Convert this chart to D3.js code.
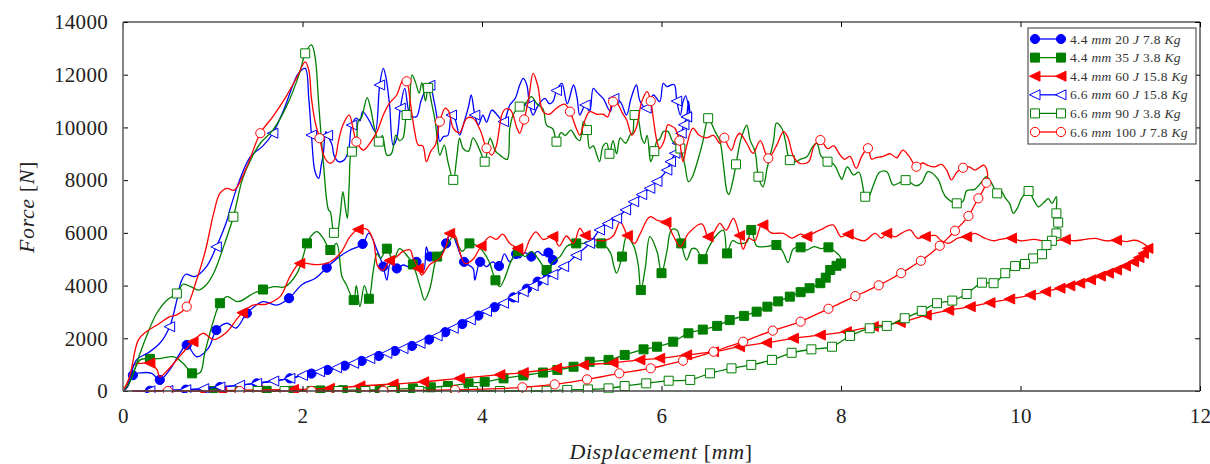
<!DOCTYPE html>
<html>
<head>
<meta charset="utf-8">
<script src="https://cdn.jsdelivr.net/npm/d3@7"></script>
<style>
body { margin: 0; background: #fff; }
text { font-family: "Liberation Serif", "Times New Roman", serif; }
</style>
</head>
<body>
<script>
// ---- data (displacement mm, force N) ----
var xTicks = [0, 2, 4, 6, 8, 10, 12];
var yTicks = [0, 2000, 4000, 6000, 8000, 10000, 12000, 14000];
var legendLabels = ["4.4 mm 20 J 7.8 Kg", "4.4 mm 35 J 3.8 Kg", "4.4 mm 60 J 15.8 Kg",
                    "6.6 mm 60 J 15.8 Kg", "6.6 mm 90 J 3.8 Kg", "6.6 mm 100 J 7.8 Kg"];

// 4.4 mm 20 J
var loadA = [[0,0],[0.05,150],[0.11,600],[0.2,690],[0.32,670],[0.41,420],[0.52,800],[0.62,1350],[0.71,1745],[0.82,1300],[0.95,1620],[1.04,2310],[1.16,2570],[1.26,2390],[1.38,2950],[1.56,3390],[1.71,3260],[1.85,3520],[2.0,4050],[2.14,4270],[2.27,4680],[2.40,5070],[2.52,5330],[2.67,5580],[2.74,5990],[2.83,5350],[2.90,4720],[2.94,4210],[2.98,4840],[3.05,4650],[3.12,4780],[3.2,4700],[3.27,4900],[3.35,4590],[3.38,5470],[3.42,5100],[3.5,5200],[3.53,5100],[3.6,5600],[3.66,6040],[3.72,5540],[3.8,4900],[3.90,4650],[3.92,4210],[3.98,4900],[4.05,4720],[4.12,4900],[4.19,4740],[4.25,5200],[4.31,4900],[4.38,5200],[4.42,5050],[4.48,5250],[4.55,5100],[4.62,5300],[4.68,5150],[4.74,5250],[4.79,4970]];
var unloadA = [[4.79,4970],[4.76,4700],[4.72,4500],[4.68,4300],[4.62,4150],[4.57,4000],[4.5,3880],[4.42,3720],[4.35,3550],[4.24,3330],[4.14,3180],[4.05,3020],[3.96,2860],[3.87,2700],[3.78,2540],[3.68,2380],[3.59,2230],[3.5,2090],[3.41,1950],[3.31,1810],[3.22,1710],[3.12,1610],[3.03,1520],[2.94,1430],[2.85,1330],[2.75,1230],[2.66,1140],[2.57,1050],[2.47,960],[2.38,880],[2.28,800],[2.19,730],[2.1,660],[2.0,590],[1.86,480],[1.68,380],[1.49,290],[1.3,220],[1.08,150],[0.9,90],[0.7,50],[0.5,20],[0.3,10],[0.12,0]];

// 4.4 mm 35 J
var loadB = [[0,0],[0.08,400],[0.19,1180],[0.3,1220],[0.43,1240],[0.56,1300],[0.67,1050],[0.77,670],[0.86,700],[0.91,1430],[1.01,2690],[1.08,3330],[1.16,3580],[1.28,3390],[1.45,3700],[1.56,3850],[1.69,3960],[1.8,3950],[1.94,4470],[2.05,5600],[2.09,5860],[2.16,6050],[2.23,5800],[2.31,5350],[2.38,5600],[2.44,4340],[2.49,4020],[2.57,3450],[2.60,4000],[2.64,3200],[2.69,4000],[2.74,3500],[2.79,4600],[2.83,5220],[2.87,5030],[2.94,5400],[3.01,4950],[3.08,5400],[3.15,5200],[3.23,4800],[3.31,3960],[3.36,3450],[3.42,3900],[3.5,5100],[3.59,5410],[3.68,5860],[3.78,5300],[3.86,5600],[3.93,5540],[4.01,5300],[4.08,4900],[4.15,4200],[4.2,3960],[4.26,4340],[4.32,4900],[4.40,5300],[4.48,5100],[4.55,5300],[4.63,5000],[4.72,4590],[4.79,4900],[4.87,5100],[4.95,5500],[5.05,5600],[5.13,5600],[5.17,5670],[5.25,5500],[5.33,5600],[5.43,5250],[5.47,4720],[5.50,4470],[5.56,5100],[5.61,5860],[5.69,5500],[5.74,4800],[5.77,3830],[5.82,4700],[5.87,5860],[5.95,5290],[6.0,4470],[6.06,5300],[6.11,6110],[6.17,6110],[6.22,5600],[6.28,4970],[6.34,5400],[6.39,5380],[6.46,5000],[6.52,5400],[6.6,5860],[6.69,6100],[6.73,5220],[6.79,5700],[6.86,5600],[6.95,5650],[7.0,6110],[7.06,5500],[7.13,5470],[7.2,5500],[7.28,5540],[7.35,5300],[7.41,4870],[7.47,5400],[7.55,5450],[7.62,5350],[7.7,5480],[7.78,5400],[7.86,5450],[7.93,5300],[7.99,5100],[8.0,4840]];
var unloadB = [[8.0,4840],[7.95,4750],[7.88,4590],[7.83,4300],[7.77,4090],[7.65,3900],[7.55,3750],[7.43,3580],[7.3,3400],[7.18,3200],[7.06,3010],[6.92,2850],[6.76,2690],[6.62,2470],[6.46,2330],[6.30,2190],[6.13,1870],[5.95,1680],[5.80,1580],[5.59,1370],[5.41,1180],[5.20,1110],[5.02,920],[4.84,800],[4.68,700],[4.46,590],[4.24,480],[4.03,350],[3.85,290],[3.62,190],[3.43,140],[3.23,100],[3.03,70],[2.86,40],[2.65,40],[2.45,30],[2.2,20],[1.9,10],[1.6,5],[1.3,0],[1.0,0]];

// 4.4 mm 60 J
var loadC = [[0,0],[0.06,300],[0.12,1000],[0.2,1050],[0.3,1060],[0.38,800],[0.41,540],[0.5,800],[0.65,1390],[0.78,1870],[0.89,2190],[1.01,1950],[1.16,2250],[1.26,2690],[1.33,2970],[1.45,3260],[1.6,3300],[1.75,3580],[1.86,4340],[1.97,4840],[2.12,4800],[2.27,4840],[2.42,5220],[2.53,5860],[2.62,6130],[2.72,6130],[2.79,5700],[2.84,4720],[2.90,4590],[2.97,4950],[3.05,5100],[3.12,5300],[3.2,5350],[3.23,5070],[3.29,4650],[3.33,4400],[3.42,4800],[3.53,5030],[3.6,5500],[3.64,5980],[3.7,5900],[3.75,5300],[3.81,4840],[3.9,5000],[3.99,5500],[4.09,5860],[4.16,5750],[4.23,5950],[4.31,5600],[4.40,5410],[4.46,5200],[4.53,5730],[4.6,6040],[4.68,5750],[4.79,5860],[4.86,5500],[4.94,5880],[5.02,5600],[5.09,6170],[5.15,5900],[5.25,5750],[5.35,5700],[5.46,5880],[5.54,6420],[5.62,5900],[5.7,5600],[5.76,5950],[5.87,6610],[5.96,6460],[6.05,6400],[6.13,5900],[6.21,5470],[6.3,5980],[6.45,6340],[6.52,5850],[6.58,6000],[6.65,6360],[6.72,6100],[6.80,6550],[6.87,5900],[6.91,5380],[6.97,5800],[7.04,5700],[7.1,6230],[7.13,6300],[7.22,6000],[7.36,5980],[7.45,5800],[7.55,5950],[7.62,5860],[7.70,6000],[7.77,6110],[7.91,6300],[8.0,5850],[8.08,5950],[8.16,5790],[8.26,5700],[8.38,5980],[8.45,5800],[8.51,5980],[8.6,5850],[8.68,6000],[8.77,6110],[8.85,5800],[8.94,5860],[9.05,5900],[9.12,5700],[9.20,5600],[9.3,5800],[9.4,5850],[9.49,5980],[9.6,5800],[9.7,5700],[9.77,5750],[9.9,5800],[10.0,5700],[10.15,5750],[10.25,5700],[10.38,5690],[10.5,5750],[10.6,5700],[10.72,5750],[10.83,5790],[10.95,5700],[11.07,5720],[11.18,5670],[11.26,5720],[11.33,5670],[11.42,5410]];
var unloadC = [[11.42,5410],[11.37,5220],[11.32,5060],[11.26,4900],[11.17,4740],[11.07,4590],[10.98,4470],[10.89,4360],[10.78,4220],[10.66,4090],[10.55,3990],[10.44,3900],[10.28,3770],[10.11,3640],[9.88,3490],[9.66,3350],[9.44,3200],[9.2,3060],[8.95,2880],[8.66,2600],[8.36,2450],[8.06,2250],[7.77,2120],[7.47,2000],[7.17,1830],[6.87,1680],[6.58,1490],[6.28,1370],[5.98,1240],[5.76,1180],[5.46,1070],[5.13,990],[4.83,860],[4.46,700],[4.2,620],[3.75,480],[3.35,350],[3.01,265],[2.64,190],[2.3,100],[1.9,60],[1.5,40],[1.1,10],[0.9,0]];

// 6.6 mm 60 J
var loadD = [[0,0],[0.05,200],[0.15,1180],[0.28,1450],[0.41,1810],[0.52,2440],[0.6,3450],[0.65,4170],[0.7,4430],[0.8,4340],[0.93,4720],[1.04,5470],[1.16,6490],[1.19,6870],[1.30,8010],[1.42,8890],[1.56,9300],[1.67,9780],[1.79,10660],[1.9,11670],[1.95,12030],[2.03,12240],[2.07,11100],[2.10,9710],[2.14,8320],[2.18,8070],[2.21,8600],[2.23,8950],[2.26,9840],[2.28,9700],[2.33,9330],[2.35,8950],[2.40,8700],[2.46,8750],[2.51,9080],[2.55,10090],[2.60,10350],[2.64,10250],[2.67,10600],[2.75,10220],[2.81,9840],[2.86,11610],[2.90,12240],[2.93,11900],[2.97,10850],[3.01,9330],[3.05,9580],[3.09,10730],[3.14,11480],[3.20,10470],[3.27,10410],[3.32,11000],[3.38,11480],[3.42,11600],[3.46,11100],[3.50,10350],[3.53,9460],[3.57,9650],[3.62,9700],[3.66,10470],[3.70,10300],[3.75,9710],[3.80,10200],[3.85,10790],[3.88,11230],[3.92,10470],[3.96,10100],[4.01,10470],[4.05,10200],[4.11,10660],[4.17,10470],[4.24,10220],[4.31,10850],[4.37,11100],[4.42,11610],[4.46,11860],[4.50,11600],[4.53,10850],[4.57,10470],[4.62,10800],[4.7,11100],[4.75,10900],[4.79,10980],[4.83,11400],[4.89,11670],[4.95,10900],[5.02,11610],[5.06,11100],[5.09,10470],[5.15,10850],[5.2,10600],[5.24,11480],[5.29,11300],[5.35,11100],[5.43,10600],[5.47,11100],[5.54,10980],[5.61,10470],[5.66,11100],[5.72,11610],[5.76,11000],[5.83,10730],[5.91,11230],[5.98,10980],[6.02,11670],[6.06,11550],[6.14,11630],[6.17,11000],[6.21,10470],[6.24,10980],[6.27,11200],[6.32,10350],[6.3,11000],[6.28,10400]];
var unloadD = [[6.28,10400],[6.25,10100],[6.22,9780],[6.18,9400],[6.15,9020],[6.1,8700],[6.06,8380],[5.95,7950],[5.87,7690],[5.78,7450],[5.69,7180],[5.6,6870],[5.5,6550],[5.4,6350],[5.31,6110],[5.2,5600],[5.05,5150],[4.91,4720],[4.79,4420],[4.68,4210],[4.57,3990],[4.46,3770],[4.35,3550],[4.24,3330],[4.05,3020],[3.87,2700],[3.68,2380],[3.5,2090],[3.31,1810],[3.12,1610],[2.94,1430],[2.75,1230],[2.57,1050],[2.38,880],[2.19,730],[2.0,590],[1.86,480],[1.68,380],[1.49,290],[1.3,220],[1.08,150],[0.9,90],[0.7,50],[0.5,20],[0.3,5]];

// 6.6 mm 90 J
var loadE = [[0,0],[0.07,300],[0.19,1430],[0.26,2060],[0.375,2950],[0.49,3450],[0.60,3700],[0.67,4050],[0.76,3950],[0.84,3830],[0.92,4000],[1.01,4470],[1.12,5470],[1.23,6610],[1.33,8030],[1.42,8760],[1.53,9400],[1.67,9900],[1.82,10790],[1.97,12090],[2.03,12810],[2.10,13130],[2.14,12680],[2.18,10920],[2.23,8760],[2.29,6870],[2.31,6800],[2.35,6000],[2.38,5920],[2.42,6700],[2.45,7560],[2.48,6900],[2.50,6550],[2.52,7820],[2.55,9080],[2.59,9020],[2.62,10220],[2.66,10400],[2.72,11130],[2.76,10700],[2.80,10000],[2.85,9460],[2.89,9700],[2.94,8950],[2.99,9000],[3.04,9710],[3.08,9500],[3.12,9600],[3.16,10470],[3.18,10370],[3.22,11990],[3.26,11700],[3.3,11300],[3.33,11700],[3.37,11000],[3.4,11500],[3.44,10900],[3.48,10200],[3.50,9590],[3.53,8950],[3.58,9330],[3.62,8700],[3.68,8010],[3.72,8900],[3.75,9590],[3.79,9200],[3.85,9100],[3.9,9600],[3.98,9100],[4.03,8700],[4.09,9590],[4.15,9100],[4.2,8950],[4.28,8790],[4.31,9970],[4.35,10500],[4.42,10790],[4.48,10900],[4.55,11170],[4.61,10900],[4.68,10700],[4.72,10090],[4.79,9940],[4.83,9460],[4.88,9800],[4.93,9700],[4.99,9900],[5.05,9600],[5.09,9500],[5.13,10220],[5.17,9900],[5.20,9210],[5.24,9300],[5.28,8950],[5.31,8700],[5.35,9300],[5.39,9400],[5.42,9000],[5.46,9500],[5.5,9000],[5.54,9600],[5.6,9400],[5.65,9710],[5.68,9800],[5.70,10470],[5.73,10430],[5.78,9590],[5.81,9400],[5.84,9700],[5.87,8830],[5.88,8700],[5.92,9100],[5.95,9500],[5.98,9550],[6.02,9840],[6.07,9850],[6.12,9500],[6.17,9330],[6.21,9200],[6.26,8570],[6.30,7940],[6.34,8100],[6.4,8700],[6.46,9450],[6.49,10000],[6.52,10350],[6.6,9820],[6.65,9500],[6.69,8570],[6.73,7560],[6.75,7450],[6.79,7900],[6.83,8600],[6.88,9500],[6.92,9900],[6.95,10090],[6.99,9490],[7.03,9200],[7.05,8950],[7.08,8130],[7.13,7750],[7.18,8500],[7.25,9520],[7.28,10160],[7.34,9970],[7.38,9500],[7.43,8760],[7.5,8700],[7.55,8800],[7.62,8890],[7.68,9250],[7.73,9400],[7.78,8900],[7.85,8700],[7.92,8600],[7.99,8130],[8.01,8030],[8.07,8500],[8.14,8200],[8.2,8300],[8.27,7370],[8.30,7310],[8.36,7800],[8.43,8300],[8.51,8320],[8.58,7820],[8.65,7900],[8.72,8000],[8.84,7780],[8.9,7900],[8.97,8320],[9.08,8040],[9.13,7600],[9.17,7350],[9.29,7120],[9.36,7200],[9.4,7600],[9.49,7650],[9.56,7900],[9.62,8130],[9.68,7880],[9.74,7500],[9.78,7600],[9.83,7330],[9.88,7100],[9.92,6740],[9.97,6970],[10.01,7300],[10.09,7590],[10.14,7300],[10.20,6990],[10.26,7150],[10.31,7300],[10.35,7120],[10.40,7370],[10.40,6740],[10.42,6390]];
var unloadE = [[10.42,6390],[10.40,5980],[10.35,5700],[10.29,5540],[10.24,5190],[10.14,5030],[10.05,4820],[9.94,4740],[9.83,4470],[9.70,4090],[9.57,4110],[9.40,3680],[9.24,3430],[9.07,3330],[8.90,3040],[8.71,2760],[8.51,2470],[8.32,2380],[8.10,2090],[7.90,1680],[7.67,1580],[7.45,1450],[7.23,1180],[7.0,990],[6.78,860],[6.54,670],[6.32,420],[6.08,390],[5.83,290],[5.59,190],[5.41,100],[5.18,60],[4.95,40],[4.72,10],[4.5,0],[4.2,0],[3.9,0],[3.6,0],[3.3,0],[3.0,0],[2.7,0],[2.4,0],[2.1,0],[1.8,0],[1.5,0]];

// 6.6 mm 100 J
var loadF = [[0,0],[0.07,500],[0.17,1930],[0.26,2250],[0.41,2570],[0.52,2820],[0.60,2890],[0.71,3200],[0.82,4210],[0.92,5350],[1.01,6740],[1.08,7500],[1.16,7690],[1.24,7620],[1.38,8510],[1.53,9780],[1.67,10410],[1.82,11190],[1.94,11920],[2.03,12490],[2.07,12180],[2.10,11100],[2.14,10220],[2.19,9590],[2.25,8830],[2.31,8640],[2.36,8800],[2.40,9460],[2.45,10090],[2.52,10470],[2.57,9840],[2.60,9460],[2.68,9140],[2.75,9400],[2.83,9840],[2.90,10470],[2.97,10920],[3.05,11230],[3.12,11800],[3.16,11750],[3.20,10980],[3.25,9840],[3.29,9330],[3.34,9300],[3.38,8700],[3.43,9100],[3.48,9330],[3.53,10220],[3.59,10730],[3.63,10600],[3.68,9970],[3.75,9800],[3.83,10350],[3.9,10350],[3.98,9900],[4.05,9210],[4.11,8950],[4.16,9300],[4.22,10470],[4.26,10700],[4.32,10650],[4.39,9970],[4.42,9780],[4.47,10300],[4.52,11100],[4.57,12050],[4.62,11600],[4.68,10600],[4.75,10500],[4.83,10730],[4.92,10880],[4.98,10600],[5.05,9970],[5.09,9710],[5.15,10300],[5.20,10600],[5.28,10500],[5.35,10500],[5.40,10400],[5.46,10980],[5.51,10900],[5.56,10570],[5.61,10300],[5.67,9710],[5.72,10000],[5.78,10980],[5.84,11360],[5.88,11000],[5.91,10300],[5.95,9460],[5.98,9200],[6.03,9500],[6.07,10100],[6.11,10050],[6.15,9970],[6.2,9500],[6.24,8700],[6.28,9300],[6.35,9970],[6.42,9700],[6.5,9600],[6.58,9700],[6.65,9400],[6.70,9610],[6.74,9300],[6.78,9140],[6.83,9600],[6.87,9780],[6.95,9400],[7.02,9020],[7.1,9500],[7.19,8830],[7.28,9300],[7.36,9840],[7.41,9600],[7.47,8900],[7.54,8640],[7.64,8700],[7.7,9300],[7.77,9520],[7.85,9200],[7.92,9300],[7.98,9000],[8.04,8790],[8.1,8900],[8.17,8450],[8.23,8900],[8.30,9210],[8.34,8800],[8.39,8850],[8.47,8900],[8.55,9000],[8.62,8850],[8.69,9140],[8.76,8900],[8.84,8510],[8.91,8650],[8.96,8570],[9.04,8500],[9.12,8600],[9.18,8360],[9.23,8010],[9.29,8300],[9.36,8470],[9.43,8500],[9.49,8380],[9.55,8500],[9.59,8570],[9.63,8320],[9.62,7900]];
var unloadF = [[9.62,7900],[9.58,7600],[9.53,7310],[9.48,7000],[9.42,6640],[9.35,6350],[9.27,6080],[9.19,5800],[9.10,5510],[9.0,5220],[8.89,4940],[8.78,4700],[8.67,4470],[8.55,4240],[8.42,4010],[8.29,3800],[8.16,3600],[8.01,3360],[7.86,3120],[7.70,2870],[7.55,2630],[7.39,2450],[7.24,2290],[7.07,2080],[6.91,1870],[6.74,1680],[6.58,1490],[6.41,1310],[6.24,1150],[6.06,1000],[5.88,860],[5.70,760],[5.53,670],[5.35,550],[5.17,440],[4.99,340],[4.81,250],[4.63,190],[4.45,140],[4.1,80],[3.7,40],[3.3,20],[2.9,10],[2.5,5],[2.1,0],[1.7,0],[1.3,0],[0.9,0],[0.5,0],[0.1,0]];

// ---- series table ----
var BLUE = "#0000ff", GREEN = "#007f00", RED = "#ff0000";
var series = [
    {label: legendLabels[0], color: BLUE,  shape: "circle",   filled: true,  load: loadA, unload: unloadA, kL: 3, kU: 2},
    {label: legendLabels[1], color: GREEN, shape: "square",   filled: true,  load: loadB, unload: unloadB, kL: 4, kU: 1},
    {label: legendLabels[2], color: RED,   shape: "triangle", filled: true,  load: loadC, unload: unloadC, kL: 5, kU: 1},
    {label: legendLabels[3], color: BLUE,  shape: "triangle", filled: false, load: loadD, unload: unloadD, kL: 6, kU: 1},
    {label: legendLabels[4], color: GREEN, shape: "square",   filled: false, load: loadE, unload: unloadE, kL: 7, kU: 1},
    {label: legendLabels[5], color: RED,   shape: "circle",   filled: false, load: loadF, unload: unloadF, kL: 8, kU: 2}
];

// ---- svg ----
var svg = d3.select("body").append("svg").attr("width", 1210).attr("height", 464);

var x = d3.scaleLinear().domain([0, 12]).range([123, 1200]);
var y = d3.scaleLinear().domain([0, 14000]).range([391, 22]);

svg.append("defs").append("clipPath").attr("id", "clip")
    .append("rect").attr("x", 123).attr("y", 20).attr("width", 1077).attr("height", 373);

// marker paths
function markerPath(shape) {
    if (shape == "circle") return d3.symbol().type(d3.symbolCircle).size(Math.PI * 4.6 * 4.6)();
    if (shape == "square") return "M-4.5,-4.5L4.5,-4.5L4.5,4.5L-4.5,4.5Z";
    return "M-5.5,0L5,-5L5,5Z"; // left pointing triangle
}

var line = d3.line()
    .x(function(d) { return x(d[0]); })
    .y(function(d) { return y(d[1]); })
    .curve(d3.curveCatmullRom.alpha(0.5));

var plot = svg.append("g").attr("clip-path", "url(#clip)");

series.forEach(function(s) {
    var pts = s.load.concat(s.unload.slice(1));
    plot.append("path")
        .attr("d", line(pts))
        .attr("fill", "none")
        .attr("stroke", s.color)
        .attr("stroke-width", 1.3)
        .attr("stroke-linejoin", "round");

    var marks = s.load.filter(function(d, i) { return i % s.kL == s.kL - 1; })
        .concat(s.unload.filter(function(d, i) { return i % s.kU == 0; }));
    plot.selectAll(null).data(marks).enter().append("path")
        .attr("d", markerPath(s.shape))
        .attr("transform", function(d) { return "translate(" + x(d[0]) + "," + y(d[1]) + ")"; })
        .attr("fill", s.filled ? s.color : "#fff")
        .attr("stroke", s.color)
        .attr("stroke-width", 1);
});

// ---- axes ----
var gx = svg.append("g").attr("transform", "translate(0,391)")
    .call(d3.axisBottom(x).tickValues(xTicks).tickSize(-5).tickPadding(17).tickFormat(d3.format("d")));
var gy = svg.append("g").attr("transform", "translate(123,0)")
    .call(d3.axisLeft(y).tickValues(yTicks).tickSize(-5).tickPadding(15).tickFormat(d3.format("d")));
var gt = svg.append("g").attr("transform", "translate(0,22)")
    .call(d3.axisTop(x).tickValues(xTicks).tickSize(-5).tickFormat(""));
var gr = svg.append("g").attr("transform", "translate(1200,0)")
    .call(d3.axisRight(y).tickValues(yTicks).tickSize(-5).tickFormat(""));

[gx, gy, gt, gr].forEach(function(g) {
    g.select(".domain").remove();
    g.selectAll("line").attr("stroke", "#000");
    g.selectAll("text")
        .attr("font-family", "'Liberation Serif', serif")
        .attr("font-size", 21)
        .attr("letter-spacing", 0.3)
        .attr("fill", "#222");
});

// frame
svg.append("line").attr("x1", 123).attr("x2", 1200).attr("y1", 22).attr("y2", 22).attr("stroke", "#000");
svg.append("line").attr("x1", 1200).attr("x2", 1200).attr("y1", 22).attr("y2", 391).attr("stroke", "#000");
svg.append("line").attr("x1", 123).attr("x2", 1200).attr("y1", 391).attr("y2", 391).attr("stroke", "#444").attr("stroke-width", 1.5);
svg.append("line").attr("x1", 123).attr("x2", 123).attr("y1", 22).attr("y2", 391).attr("stroke", "#777").attr("stroke-width", 1.8);

// axis titles
function richText(sel, words) {
    words.forEach(function(w, i) {
        sel.append("tspan")
            .attr("font-style", /^[A-Za-z]+$/.test(w) ? "italic" : "normal")
            .text((i > 0 ? " " : "") + w);
    });
}

var xt = svg.append("text").attr("x", 661).attr("y", 459).attr("text-anchor", "middle")
    .attr("font-size", 22).attr("letter-spacing", 0.6).attr("fill", "#222");
xt.append("tspan").attr("font-style", "italic").text("Displacement ");
xt.append("tspan").text("[");
xt.append("tspan").attr("font-style", "italic").text("mm");
xt.append("tspan").text("]");

var yt = svg.append("text").attr("transform", "translate(34,207) rotate(-90)").attr("text-anchor", "middle")
    .attr("font-size", 22).attr("letter-spacing", 0.6).attr("fill", "#222");
yt.append("tspan").attr("font-style", "italic").text("Force ");
yt.append("tspan").text("[");
yt.append("tspan").attr("font-style", "italic").text("N");
yt.append("tspan").text("]");

// ---- legend ----
var legend = svg.append("g").attr("transform", "translate(1028,28)");
legend.append("rect").attr("x", 0).attr("y", 0).attr("width", 168).attr("height", 116)
    .attr("fill", "#fff").attr("stroke", "#555").attr("stroke-width", 1.2);

series.forEach(function(s, i) {
    var gy0 = 11 + i * 18.6;
    var row = legend.append("g").attr("transform", "translate(0," + gy0 + ")");
    row.append("line").attr("x1", 7).attr("x2", 33).attr("y1", 0).attr("y2", 0)
        .attr("stroke", s.color).attr("stroke-width", 1.3);
    [7, 33].forEach(function(cx) {
        row.append("path").attr("d", markerPath(s.shape))
            .attr("transform", "translate(" + cx + ",0)")
            .attr("fill", s.filled ? s.color : "#fff")
            .attr("stroke", s.color);
    });
    var t = row.append("text").attr("x", 42).attr("y", 4.5).attr("font-size", 13.5)
        .attr("letter-spacing", 0.3).attr("fill", "#333");
    richText(t, s.label.split(" "));
});
</script>
</body>
</html>
